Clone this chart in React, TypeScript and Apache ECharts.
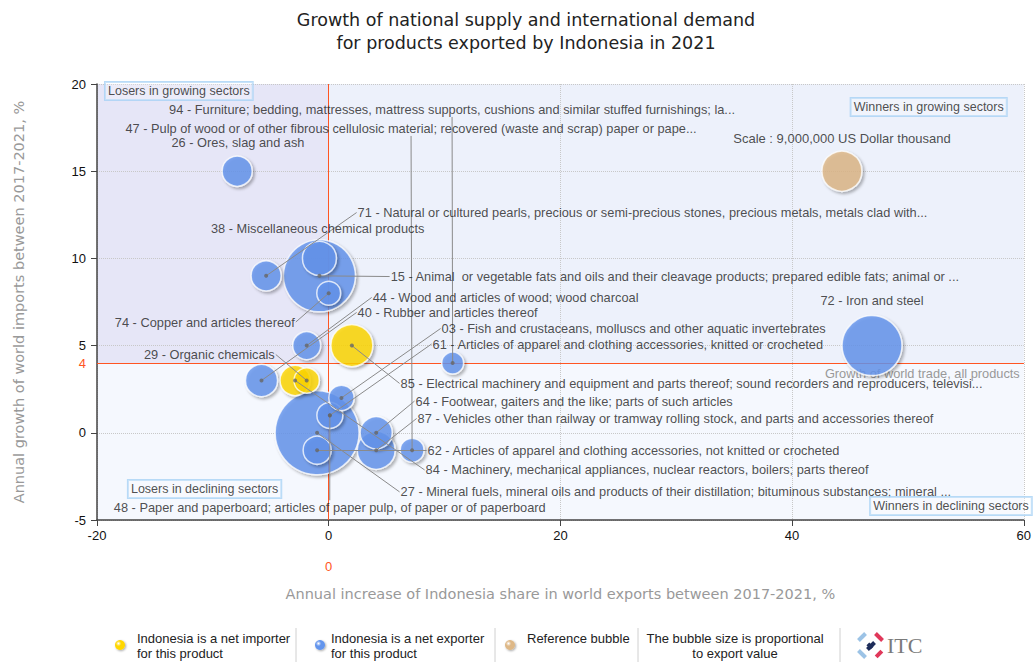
import { useEffect, useRef } from "react";
import * as echarts from "echarts";

// ---------- DATA ----------
// Products (HS codes), in drawing order (largest bubble first)
const productCodes = ["27", "15", "72", "85", "87", "38", "40", "64", "26", "71", "84", "44", "62", "48", "29", "03", "74", "47", "94"];
// Annual increase of Indonesia share in world exports 2017-2021, %
const shareGrowth = [-1.0, -0.8, 46.9, 2.0, 4.1, -0.8, -5.8, 4.1, -7.9, -5.4, -2.9, -1.9, -1.0, 0.1, -1.9, 1.1, 0.0, 7.2, 10.7];
// Annual growth of world imports 2017-2021, %
const importGrowth = [0.0, 9.0, 5.0, 5.0, -1.0, 10.0, 3.0, 0.0, 15.0, 9.0, 3.0, 5.0, -1.0, 1.0, 3.0, 2.0, 8.0, -1.0, 4.0];
// Export value, US Dollar thousand
const exportValue = [39700000, 29200000, 20250000, 9900000, 8100000, 6500000, 5800000, 5800000, 5100000, 5100000, 5100000, 4400000, 4400000, 3800000, 3600000, 3600000, 3200000, 3200000, 2700000];
// Indonesia is a net importer of the product
const netImporter = [false, false, false, true, false, false, false, false, false, false, true, false, false, false, true, false, false, false, false];

// Reference bubble
const referenceValue = 9000000;
const referencePoint = [44.3, 15.0];

// World averages
const worldTradeGrowth = 4;
const worldShareGrowth = 0;

// Axis ticks
const xTicks = { min: -20, max: 60, interval: 20 };
const yTicks = { min: -5, max: 20, interval: 5 };

// Product labels
const labelCodes = ["94", "47", "26", "71", "38", "15", "44", "40", "74", "03", "61", "72", "29", "85", "64", "87", "62", "84", "27", "48"];
const labelTexts = [
  "94 - Furniture; bedding, mattresses, mattress supports, cushions and similar stuffed furnishings; la...",
  "47 - Pulp of wood or of other fibrous cellulosic material; recovered (waste and scrap) paper or pape...",
  "26 - Ores, slag and ash",
  "71 - Natural or cultured pearls, precious or semi-precious stones, precious metals, metals clad with...",
  "38 - Miscellaneous chemical products",
  "15 - Animal  or vegetable fats and oils and their cleavage products; prepared edible fats; animal or ...",
  "44 - Wood and articles of wood; wood charcoal",
  "40 - Rubber and articles thereof",
  "74 - Copper and articles thereof",
  "03 - Fish and crustaceans, molluscs and other aquatic invertebrates",
  "61 - Articles of apparel and clothing accessories, knitted or crocheted",
  "72 - Iron and steel",
  "29 - Organic chemicals",
  "85 - Electrical machinery and equipment and parts thereof; sound recorders and reproducers, televisi...",
  "64 - Footwear, gaiters and the like; parts of such articles",
  "87 - Vehicles other than railway or tramway rolling stock, and parts and accessories thereof",
  "62 - Articles of apparel and clothing accessories, not knitted or crocheted",
  "84 - Machinery, mechanical appliances, nuclear reactors, boilers; parts thereof",
  "27 - Mineral fuels, mineral oils and products of their distillation; bituminous substances; mineral ...",
  "48 - Paper and paperboard; articles of paper pulp, of paper or of paperboard",
];
// which bubble each label points to
const labelTargets = ["94", "47", "26", "71", "38", "15", "44", "40", "74", "03", "48", "72", "29", "85", "64", "87", "62", "84", "27", "48"];

// ---------- LAYOUT (label anchors, in axis units) ----------
const labelLayout = [
  { x: 10.65, y: 18.11, pos: "top", leader: true },
  { x: 7.11, y: 17.02, pos: "top", leader: true },
  { x: -7.83, y: 16.22, pos: "top", leader: false },
  { x: 2.41, y: 12.63, pos: "right", leader: true },
  { x: -0.95, y: 11.28, pos: "top", leader: false },
  { x: 5.26, y: 8.96, pos: "right", leader: true },
  { x: 3.71, y: 7.76, pos: "right", leader: true },
  { x: 2.41, y: 6.9, pos: "right", leader: true },
  { x: -2.84, y: 6.35, pos: "left", leader: true },
  { x: 9.66, y: 5.98, pos: "right", leader: true },
  { x: 8.88, y: 5.09, pos: "right", leader: true },
  { x: 46.9, y: 7.16, pos: "top", leader: false },
  { x: -4.57, y: 4.49, pos: "left", leader: true },
  { x: 6.12, y: 2.83, pos: "right", leader: true },
  { x: 7.41, y: 1.82, pos: "right", leader: true },
  { x: 7.59, y: 0.82, pos: "right", leader: true },
  { x: 8.45, y: -0.99, pos: "right", leader: true },
  { x: 8.28, y: -2.13, pos: "right", leader: true },
  { x: 6.12, y: -3.39, pos: "right", leader: true },
  { x: 0.09, y: -3.87, pos: "bottom", leader: true },
];

const quadrantTexts = ["Losers in growing sectors", "Winners in growing sectors", "Losers in declining sectors", "Winners in declining sectors"];
const quadrantLayout = [
  { x: -19.31, y: 19.6, pos: "right" },
  { x: 58.53, y: 18.68, pos: "left" },
  { x: -17.33, y: -3.22, pos: "right" },
  { x: 60.69, y: -4.2, pos: "left" },
];
const scaleText = "Scale : 9,000,000 US Dollar thousand";
const scaleLayout = { x: 44.31, y: 16.44 };

// ---------- STYLE ----------
const FONT = "Liberation Sans, Arial, sans-serif";
const VFONT = "DejaVu Sans, Verdana, sans-serif";
const LABEL_SIZE = 12.8;
const BLUE = "#6495ED";
const YELLOW = "#FFD700";
const TAN = "#DEB887";
const RED = "#FF5522";
const REF_RADIUS = 20;

const diameter = (v: number) => 2 * REF_RADIUS * Math.sqrt(v / referenceValue);

export default function App() {
  const ref = useRef<HTMLDivElement>(null);

  useEffect(() => {
    document.body.style.margin = "0";
    const chart = echarts.init(ref.current!, null, { renderer: "svg" });

    const bubbleStyle = (color: string) => ({
      color,
      borderColor: "rgba(255,255,255,0.95)",
      borderWidth: 1.5,
      shadowBlur: 3,
      shadowOffsetX: 2,
      shadowOffsetY: 2,
      shadowColor: "rgba(0,0,0,0.35)",
    });

    const bubbleData = productCodes.map((c, i) => ({
      name: c,
      value: [shareGrowth[i], importGrowth[i], exportValue[i]],
      itemStyle: bubbleStyle(netImporter[i] ? YELLOW : BLUE),
    }));
    bubbleData.push({
      name: "ref",
      value: [referencePoint[0], referencePoint[1], referenceValue],
      itemStyle: bubbleStyle(TAN),
    });

    const centerOf = (code: string) => {
      const i = productCodes.indexOf(code);
      return [shareGrowth[i], importGrowth[i]];
    };

    const leaderData: any[] = [];
    const dotData: any[] = [];
    labelCodes.forEach((c, i) => {
      const L = labelLayout[i];
      if (L.leader) {
        const t = centerOf(labelTargets[i]);
        leaderData.push({ coords: [[L.x, L.y], t] });
        dotData.push(t);
      }
    });

    const labelData = labelCodes.map((c, i) => ({
      name: labelTexts[i],
      value: [labelLayout[i].x, labelLayout[i].y],
      label: { position: labelLayout[i].pos },
    }));

    const quadrantData = quadrantTexts.map((t, i) => ({
      name: t,
      value: [quadrantLayout[i].x, quadrantLayout[i].y],
      label: { position: quadrantLayout[i].pos },
    }));

    const legendY = 645;
    const legendText = (x: number, y: number, text: string, align = "left") => ({
      type: "text",
      x,
      y,
      style: { text, fill: "#222", font: `13px ${FONT}`, textAlign: align, textVerticalAlign: "top", lineHeight: 15 },
    });
    const legendDot = (x: number, color: string) => ({
      type: "circle",
      shape: { cx: x, cy: legendY, r: 5 },
      style: {
        fill: new echarts.graphic.RadialGradient(0.35, 0.35, 0.75, [
          { offset: 0, color: "#ffffff" },
          { offset: 0.35, color },
          { offset: 1, color },
        ]),
        shadowBlur: 2,
        shadowOffsetX: 1,
        shadowOffsetY: 1,
        shadowColor: "rgba(0,0,0,0.35)",
      },
    });
    const sep = (x: number) => ({
      type: "line",
      shape: { x1: x, y1: 628, x2: x, y2: 662 },
      style: { stroke: "#d0d0d0", lineWidth: 1 },
    });
    const bar = (cx: number, cy: number, rot: number, color: string, len = 10) => ({
      type: "rect",
      x: cx,
      y: cy,
      rotation: rot,
      shape: { x: -len / 2, y: -2, width: len, height: 4 },
      style: { fill: color },
    });

    const option: any = {
      animation: false,
      grid: { left: 97, right: 9, top: 84, bottom: 142, containLabel: false },
      xAxis: {
        type: "value",
        min: xTicks.min,
        max: xTicks.max,
        interval: xTicks.interval,
        z: 0.5,
        name: "Annual increase of Indonesia share in world exports between 2017-2021, %",
        nameLocation: "middle",
        nameGap: 66,
        nameTextStyle: { color: "#999", fontSize: 14.5, fontFamily: VFONT },
        axisLine: { show: true, onZero: false, lineStyle: { color: "#444", width: 1.5 } },
        axisTick: { show: true, length: 6, lineStyle: { color: "#444" } },
        axisLabel: { color: "#111", fontSize: 13, fontFamily: FONT, margin: 9 },
        splitLine: { show: true, lineStyle: { color: "#c8c8c8", type: "dotted" } },
      },
      yAxis: {
        type: "value",
        min: yTicks.min,
        max: yTicks.max,
        interval: yTicks.interval,
        z: 0.5,
        name: "Annual growth of world imports between 2017-2021, %",
        nameLocation: "middle",
        nameGap: 71,
        nameTextStyle: { color: "#999", fontSize: 14.5, fontFamily: VFONT },
        axisLine: { show: true, onZero: false, lineStyle: { color: "#444", width: 1.5 } },
        axisTick: { show: true, length: 6, lineStyle: { color: "#444" } },
        axisLabel: { color: "#111", fontSize: 13, fontFamily: FONT, margin: 11 },
        splitLine: { show: true, lineStyle: { color: "#c8c8c8", type: "dotted" } },
      },
      graphic: [
        {
          type: "text",
          x: 526,
          y: 8,
          style: {
            text: "Growth of national supply and international demand\nfor products exported by Indonesia in 2021",
            fill: "#222",
            font: `17.5px ${VFONT}`,
            textAlign: "center",
            textVerticalAlign: "top",
            lineHeight: 23,
          },
        },
        legendDot(120, YELLOW),
        legendText(137, 631, "Indonesia is a net importer\nfor this product"),
        sep(296),
        legendDot(320, BLUE),
        legendText(331, 631, "Indonesia is a net exporter\nfor this product"),
        sep(495),
        legendDot(510, TAN),
        legendText(527, 631, "Reference bubble"),
        sep(638),
        legendText(735, 631, "The bubble size is proportional\nto export value", "center"),
        sep(840),
        bar(862, 637, Math.PI / 4, "#9cc3e6", 10),
        bar(871, 646, Math.PI / 4, "#1e2d5a", 10),
        bar(879, 637, -Math.PI / 4, "#e0385a", 10),
        bar(870, 646, -Math.PI / 4, "#1e2d5a", 6),
        bar(862, 654, -Math.PI / 4, "#9cc3e6", 10),
        bar(879, 654, Math.PI / 4, "#e0385a", 8),
        {
          type: "text",
          x: 887,
          y: 645,
          style: { text: "ITC", fill: "#7a7a7a", font: `22px Liberation Serif, serif`, textVerticalAlign: "middle" },
        },
      ],
      series: [
        {
          type: "scatter",
          name: "bubbles",
          z: 2,
          silent: true,
          data: bubbleData,
          symbolSize: (v: number[]) => diameter(v[2]),
          markArea: {
            silent: true,
            z: 0,
            data: [
              [{ xAxis: -20, yAxis: worldTradeGrowth, itemStyle: { color: "#E6E6F7" } }, { xAxis: worldShareGrowth, yAxis: 20 }],
              [{ xAxis: worldShareGrowth, yAxis: worldTradeGrowth, itemStyle: { color: "#EDF1FB" } }, { xAxis: 60, yAxis: 20 }],
              [{ xAxis: -20, yAxis: -5, itemStyle: { color: "#F5F8FE" } }, { xAxis: 60, yAxis: worldTradeGrowth }],
            ],
          },
          markLine: {
            silent: true,
            z: 1,
            symbol: ["none", "none"],
            lineStyle: { color: RED, width: 1, type: "solid" },
            data: [
              { xAxis: worldShareGrowth, label: { show: true, position: "start", formatter: "0", color: RED, fontSize: 13, fontFamily: FONT, distance: 40 } },
              { yAxis: worldTradeGrowth, label: { show: true, position: "start", formatter: "4", color: RED, fontSize: 13, fontFamily: FONT, distance: 11 } },
              {
                yAxis: worldTradeGrowth,
                label: {
                  show: true,
                  position: "insideEndBottom",
                  formatter: "Growth of world trade, all products",
                  color: "#999",
                  fontSize: LABEL_SIZE,
                  fontFamily: FONT,
                  distance: 4,
                },
              },
            ],
          },
        },
        {
          type: "lines",
          coordinateSystem: "cartesian2d",
          z: 3,
          silent: true,
          lineStyle: { color: "#8a8a8a", width: 1, opacity: 1, curveness: 0 },
          data: leaderData,
        },
        {
          type: "scatter",
          z: 4,
          silent: true,
          symbolSize: 4,
          itemStyle: { color: "#666" },
          data: dotData,
        },
        {
          type: "scatter",
          z: 5,
          silent: true,
          symbolSize: 0,
          data: labelData,
          label: {
            show: true,
            formatter: "{b}",
            color: "#222",
            fontSize: LABEL_SIZE,
            fontFamily: FONT,
            distance: 1,
          },
        },
        {
          type: "scatter",
          z: 5,
          silent: true,
          clip: false,
          symbolSize: 0,
          data: quadrantData,
          label: {
            show: true,
            formatter: "{b}",
            color: "#222",
            fontSize: 12.5,
            fontFamily: FONT,
            distance: 0,
            borderColor: "#A8D2F5",
            borderWidth: 1,
            backgroundColor: "rgba(255,255,255,0.3)",
            padding: [3, 3, 2, 3],
          },
        },
        {
          type: "scatter",
          z: 5,
          silent: true,
          symbolSize: 0,
          data: [{ name: scaleText, value: [scaleLayout.x, scaleLayout.y] }],
          label: { show: true, position: "top", formatter: "{b}", color: "#222", fontSize: 13, fontFamily: FONT, distance: 1 },
        },
      ],
    };

    chart.setOption(option);
    return () => chart.dispose();
  }, []);

  return <div ref={ref} style={{ width: 1034, height: 662 }} />;
}
